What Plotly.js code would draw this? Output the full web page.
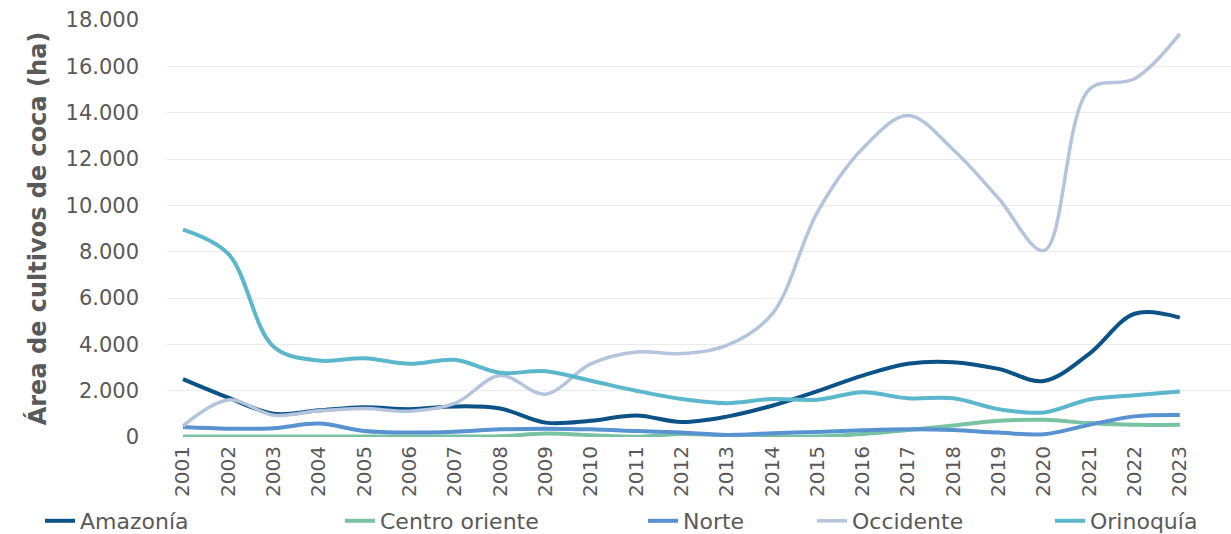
<!DOCTYPE html>
<html>
<head>
<meta charset="utf-8">
<script src="https://cdn.plot.ly/plotly-3.0.1.min.js"></script>
<style>html,body{margin:0;padding:0;background:#fff;}#chart{width:1231px;height:534px;}</style>
</head>
<body>
<div id="chart"></div>
<script>
const years = ["2001","2002","2003","2004","2005","2006","2007","2008","2009","2010","2011","2012","2013","2014","2015","2016","2017","2018","2019","2020","2021","2022","2023"];
const amazonia = [2500, 1700, 1000, 1150, 1280, 1200, 1320, 1230, 620, 700, 930, 650, 880, 1350, 1980, 2650, 3160, 3230, 2940, 2420, 3590, 5320, 5150];
const centroOriente = [20, 20, 20, 20, 20, 20, 20, 30, 150, 80, 10, 130, 80, 20, 20, 130, 300, 500, 700, 740, 600, 525, 530];
const norte = [430, 360, 380, 580, 260, 190, 230, 330, 360, 330, 260, 190, 90, 160, 220, 290, 330, 300, 190, 120, 525, 890, 950];
const occidente = [480, 1600, 940, 1130, 1230, 1115, 1450, 2650, 1850, 3160, 3670, 3600, 3950, 5300, 9700, 12450, 13880, 12400, 10300, 8050, 15000, 15460, 17400];
const orinoquia = [8950, 7900, 3900, 3300, 3400, 3160, 3330, 2770, 2840, 2430, 2000, 1640, 1460, 1640, 1610, 1930, 1670, 1670, 1200, 1060, 1620, 1800, 1960];
const yTicks = [0, 2000, 4000, 6000, 8000, 10000, 12000, 14000, 16000, 18000];
const yTickText = ["0", "2.000", "4.000", "6.000", "8.000", "10.000", "12.000", "14.000", "16.000", "18.000"];

const seriesNames = ["Amazonía", "Centro oriente", "Norte", "Occidente", "Orinoquía"];
const seriesData = [amazonia, centroOriente, norte, occidente, orinoquia];
const colors = ["#0b5287", "#79c3a2", "#5892d0", "#b5c4dd", "#5bb7cc"];
const widths = [4, 4, 4, 3.5, 4];
const legendIds = ["legend", "legend2", "legend3", "legend4", "legend5"];
const legendX = [40, 340, 643, 812, 1050];

const traces = seriesNames.map((n, i) => ({
  type: "scatter", mode: "lines", name: n, x: years, y: seriesData[i],
  line: {color: colors[i], width: widths[i], shape: "spline", smoothing: 1},
  legend: legendIds[i], hoverinfo: "skip"
}));

const font = "DejaVu Sans, sans-serif";
const layout = {
  width: 1231, height: 534,
  margin: {l: 167, r: 0, t: 20, b: 97},
  paper_bgcolor: "#fff", plot_bgcolor: "#fff",
  font: {family: font, color: "#595959"},
  xaxis: {
    type: "category", range: [-0.353, 23.13],
    showgrid: false, zeroline: false, showline: false, ticks: "",
    tickangle: -90, tickfont: {size: 20, color: "#595959", family: font},
    ticklabelstandoff: 4, fixedrange: true
  },
  yaxis: {
    range: [0, 18000], tickmode: "array", tickvals: yTicks, ticktext: yTickText,
    showgrid: true, gridcolor: "#ebebeb", gridwidth: 1, zeroline: false, showline: false, ticks: "",
    tickfont: {size: 21, color: "#595959", family: font}, ticklabelstandoff: 27,
    title: {text: "Área de cultivos de coca (ha)", font: {size: 24, color: "#595959", family: "DejaVu Sans, sans-serif", weight: "bold"}, standoff: 12},
    fixedrange: true
  },
  showlegend: true
};
legendIds.forEach((id, i) => {
  layout[id] = {
    orientation: "h", xref: "container", yref: "container",
    x: legendX[i] / 1231, y: 13 / 534, xanchor: "left", yanchor: "middle",
    font: {size: 22, color: "#595959", family: font}, bgcolor: "rgba(0,0,0,0)", borderwidth: 0
  };
});
Plotly.newPlot("chart", traces, layout, {displayModeBar: false, staticPlot: true});
</script>
</body>
</html>
